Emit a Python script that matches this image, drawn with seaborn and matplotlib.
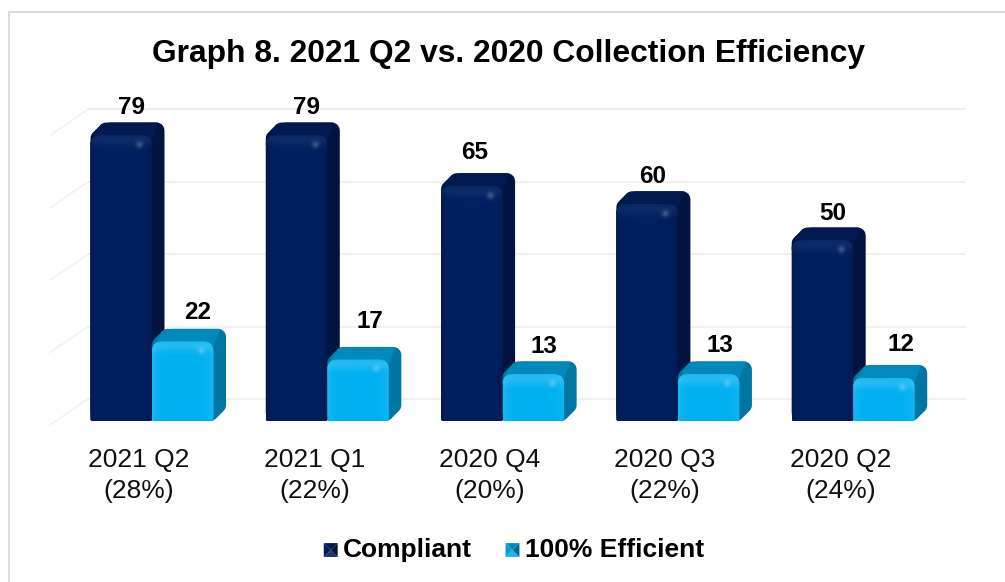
import numpy as np
import pandas as pd
import seaborn as sns
import matplotlib.pyplot as plt
import matplotlib.transforms as mtrans
from matplotlib.colors import to_rgb
from matplotlib.legend_handler import HandlerBase
from matplotlib.lines import Line2D
from matplotlib.patches import Patch, PathPatch, Polygon
from matplotlib.path import Path

quarters = ["2021 Q2", "2021 Q1", "2020 Q4", "2020 Q3", "2020 Q2"]
shares = ["28%", "22%", "20%", "22%", "24%"]
compliant = [79, 79, 65, 60, 50]
efficient = [22, 17, 13, 13, 12]
series_names = ["Compliant", "100% Efficient"]
grid_values = [0, 20, 40, 60, 80]

W, H = 1005, 582
PX_PER_UNIT = 3.62
DEPTH = 12.5

df = pd.DataFrame({
    "quarter": quarters * 2,
    "value": compliant + efficient,
    "series": [series_names[0]] * 5 + [series_names[1]] * 5,
})

sns.set_theme(style="white")
plt.rcParams["font.family"] = ["Liberation Sans", "DejaVu Sans"]

fig = plt.figure(figsize=(W / 100, H / 100), dpi=100, facecolor="white")
# axes run from x=50 to 966 px, zero line at y=421 px
ax = fig.add_axes([50 / W, (H - 421) / H, 916 / W, 340 / H])
ax.patch.set_alpha(0)

palette = {"Compliant": "#002060", "100% Efficient": "#00b0f0"}
sns.barplot(data=df, x="quarter", y="value", hue="series", palette=palette,
            width=0.702, gap=0, dodge=True, ax=ax, legend=False, linewidth=0)

step = 175.3
x0 = -(152 - 50) / step
ax.set_xlim(x0, x0 + 916 / step)
ax.set_ylim(0, 340 / PX_PER_UNIT)
for s in ax.spines.values():
    s.set_visible(False)
ax.set_xlabel("")
ax.set_ylabel("")
ax.set_yticks([])
ax.set_xticks(range(5))
ax.set_xticklabels([f"{q}\n({p})" for q, p in zip(quarters, shares)],
                   fontsize=19, color="#111111", linespacing=1.37)
ax.tick_params(axis="x", length=0, pad=19.5)
shift = mtrans.ScaledTranslation(-13 / 100, 0, fig.dpi_scale_trans)
for lab in ax.get_xticklabels():
    lab.set_transform(lab.get_transform() + shift)

px = mtrans.IdentityTransform()


def to_px(x, y):
    return ax.transData.transform((x, y))


# back wall and side wall grid
wall = "#f0f0f0"
left_back = 88
zero_back = to_px(0, 0)[1] + 22
for v in grid_values:
    yb = zero_back + v * PX_PER_UNIT
    fig.add_artist(Line2D([left_back, 965], [yb, yb], color=wall, lw=1.5, transform=px, zorder=0))
    fig.add_artist(Line2D([left_back, 50], [yb, yb - 26], color="#f3f3f3", lw=1.2, transform=px, zorder=0))

# frame, only top and left are in the crop
fig.add_artist(Line2D([8.5, 8.5, W], [0, H - 11.5, H - 11.5],
                      color="#dcdcdc", lw=1.5, transform=px, zorder=0))


def shade(col, f):
    c = np.array(to_rgb(col))
    return np.clip(c * f if f <= 1 else c + (1 - c) * (f - 1), 0, 1)


def front_path(l, b, r, t, rt, rb):
    verts = [(l + rb, b), (r - rb, b), (r, b), (r, b + rb), (r, t - rt), (r, t), (r - rt, t),
             (l + rt, t), (l, t), (l, t - rt), (l, b + rb), (l, b), (l + rb, b), (l + rb, b)]
    codes = [Path.MOVETO, Path.LINETO, Path.CURVE3, Path.CURVE3, Path.LINETO, Path.CURVE3, Path.CURVE3,
             Path.LINETO, Path.CURVE3, Path.CURVE3, Path.LINETO, Path.CURVE3, Path.CURVE3, Path.CLOSEPOLY]
    return Path(verts, codes)


def front_image(col, w, h, edge, rim_amt):
    # face shading: soft rim along the top, edges darker or lighter, small glint
    nx, ny = max(int(round(w)), 2), max(int(round(h)), 2)
    xs = np.arange(nx)[None, :]
    ys = np.arange(ny)[:, None]
    c = np.array(to_rgb(col))
    band = np.exp(-xs / 4.0) + 0.8 * np.exp(-(nx - 1 - xs) / 5.0)
    img = np.repeat(c[None, None, :], ny, axis=0).repeat(nx, axis=1)
    if edge < 0:
        img = img * (1 + edge * band)[:, :, None]
    else:
        img = img + (1 - img) * (edge * band)[:, :, None]
    rim = np.exp(-((ys - 4.0) / 6.0) ** 2) * rim_amt
    img = img + (1 - img) * rim[:, :, None]
    glint = np.exp(-(((xs - (nx - 13)) / 3.5) ** 2 + ((ys - 9) / 3.5) ** 2)) * 0.22
    img = img + (1 - img) * glint[:, :, None]
    return np.clip(img, 0, 1)


looks = {
    0: dict(col="#002060", side="#00143f", top="#001a50", edge=-0.18, rim=0.05),
    1: dict(col="#00b0f0", side="#0076a3", top="#0089ba", edge=0.10, rim=0.14),
}
RS = 8
CH = RS * 0.414
for k, cont in enumerate(ax.containers):
    look = looks[k]
    for bar in cont:
        x, w, h = bar.get_x(), bar.get_width(), bar.get_height()
        (l, b), (r, t) = to_px(x, 0), to_px(x + w, h)
        z = 2 + k
        D = DEPTH
        # outline of the whole block, inset then stroked so the corners come out round
        shell = Polygon([(l + RS, t - CH), (l + D + CH, t + D - RS), (r + D - RS, t + D - RS),
                         (r + D - RS, b + D + CH), (r - CH, b + RS), (l + RS, b + RS)],
                        transform=px, fc=look["side"], ec=look["side"], lw=2 * RS * 0.72,
                        joinstyle="round", zorder=z)
        fig.add_artist(shell)
        topf = Polygon([(l - 2, t - 10), (r - 2, t - 10), (r + D - 5, t + D + 2), (l - 2, t + D + 2)],
                       transform=px, fc=look["top"], ec="none", zorder=z + 0.1)
        fig.add_artist(topf)
        clip_top = PathPatch(Path([(l, t - 7), (l + 3, t - 1), (l + D - 2, t + D - 2), (l + D + 7, t + D),
                                   (r + D - 7, t + D), (r + D - 2, t + D - 2), (r + D, t + D - 7),
                                   (r + D, t - 12), (l, t - 12), (l, t - 7)]),
                             transform=px, fc="none", ec="none")
        topf.set_clip_path(clip_top)
        # front face image, bar itself gets the same clip
        clip = PathPatch(front_path(l, b, r, t, 10, 2), transform=px, fc="none", ec="none")
        im = fig.figimage(front_image(look["col"], r - l, t - b, look["edge"], look["rim"]),
                          xo=int(round(l)), yo=int(round(b)), origin="upper", zorder=z + 0.5)
        im.set_clip_path(clip)
        bar.set_clip_path(clip)

# value labels, nudged by hand since the source placed them by eye
nudges = {
    0: [(10, 28), (10, 28), (3, 33), (5, 27), (10, 26)],
    1: [(15, 29), (12, 38), (11, 27), (11, 28), (17, 33)],
}
for k, cont in enumerate(ax.containers):
    labels = ax.bar_label(cont, fontsize=17.5, fontweight="bold", color="black", padding=0,
                          label_type="edge", fmt="%g")
    for ann, (dx, dy) in zip(labels, nudges[k]):
        ann.xyann = (dx * 0.72, dy * 0.72)
        ann.set_va("center")
        ann.set_ha("center")

fig.text(508 / W, 1 - 54 / H, "Graph 8. 2021 Q2 vs. 2020 Collection Efficiency",
         ha="center", va="center", fontsize=22.9, fontweight="bold", color="black")


class PyramidHandler(HandlerBase):
    # small four sided bevel like the Excel key
    def create_artists(self, legend, orig, xd, yd, width, height, fontsize, trans):
        c = orig.get_facecolor()[:3]
        s = 10
        x0_, y0_ = width - s, -yd
        cx, cy = x0_ + s / 2, y0_ + s / 2
        corners = [(x0_, y0_), (x0_ + s, y0_), (x0_ + s, y0_ + s), (x0_, y0_ + s)]
        fac = [1.1, 0.62, 0.78, 0.9]
        out = []
        for i in range(4):
            out.append(Polygon([corners[i], corners[(i + 1) % 4], (cx, cy)], fc=shade(c, fac[i]),
                               ec="none", transform=trans))
        return out


handles = [Patch(facecolor=palette[n], label=n) for n in series_names]
fig.legend(handles=handles, loc="center", bbox_to_anchor=(513.5 / W, 1 - 550 / H), ncol=2, frameon=False,
           handler_map={Patch: PyramidHandler()},
           prop={"size": 19, "weight": "bold"}, handlelength=0.55, handleheight=0.7,
           handletextpad=0.2, columnspacing=1.25, labelcolor="black")

fig.savefig("out.png", dpi=100)
